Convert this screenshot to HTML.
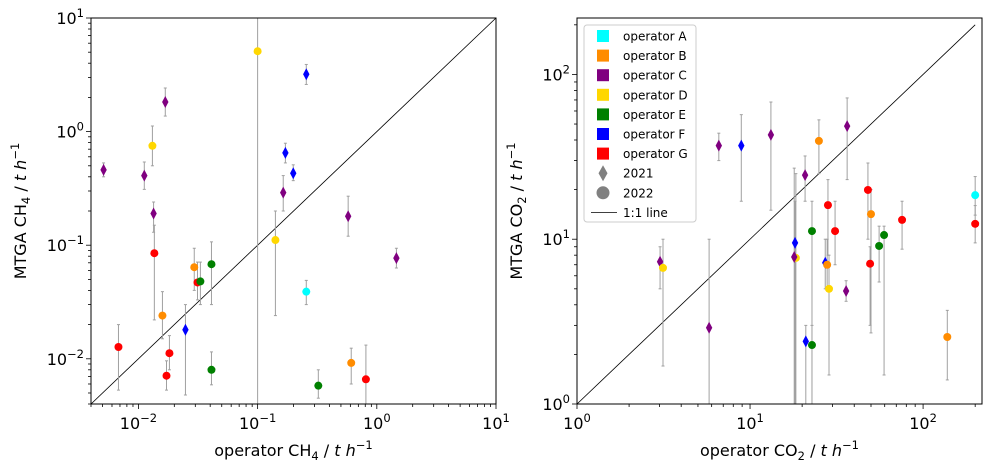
<!DOCTYPE html>
<html><head><meta charset="utf-8"><style>
body{margin:0;background:#fff;}
svg{display:block;font-family:"DejaVu Sans","Liberation Sans",sans-serif;}
</style></head><body>
<svg id="chart" width="994" height="469" viewBox="0 0 994 469" xmlns="http://www.w3.org/2000/svg"></svg>
<script>
const colorOf={A:'#00ffff',B:'#ff8c00',C:'#800080',D:'#ffd700',E:'#008000',F:'#0000ff',G:'#ff0000'};
// Left panel CH4
const ch4Operator=['C','C','C','C','D','G','B','G','G','G','F','B','G','E','E','E','D','D','C','F','F','F','A','E','C','B','C','G'];
const ch4Year=[2021,2021,2021,2021,2022,2022,2022,2022,2022,2022,2021,2022,2022,2022,2022,2022,2022,2022,2021,2021,2021,2021,2022,2022,2021,2022,2021,2022];
const ch4X=[0.0051,0.0112,0.0134,0.0168,0.0131,0.0136,0.0159,0.0068,0.0172,0.0182,0.0248,0.0294,0.0313,0.0331,0.041,0.041,0.1,0.141,0.164,0.171,0.199,0.256,0.256,0.323,0.575,0.61,1.46,0.81];
const ch4Y=[0.46,0.41,0.19,1.82,0.75,0.085,0.024,0.0127,0.0071,0.0112,0.018,0.064,0.047,0.048,0.068,0.008,5.1,0.111,0.29,0.65,0.43,3.2,0.039,0.0058,0.18,0.0092,0.077,0.0066];
const ch4Lo=[0.40,0.31,0.13,1.37,0.50,0.022,0.015,0.0053,0.0053,0.008,0.0048,0.040,0.033,0.030,0.030,0.0059,0.001,0.024,0.20,0.53,0.37,2.6,0.030,0.0045,0.12,0.006,0.063,0.003];
const ch4Hi=[0.53,0.54,0.24,2.42,1.12,0.15,0.039,0.020,0.0096,0.016,0.030,0.094,0.071,0.071,0.107,0.0115,100,0.2,0.41,0.79,0.51,3.9,0.049,0.008,0.27,0.0124,0.094,0.0132];
// Right panel CO2
const co2Operator=['C','D','C','C','F','C','D','C','F','C','F','E','B','E','F','B','D','G','G','C','C','G','B','G','E','E','G','B','A','G'];
const co2Year=[2021,2022,2021,2021,2021,2021,2022,2021,2021,2021,2021,2022,2022,2022,2021,2022,2022,2022,2022,2021,2021,2022,2022,2022,2022,2022,2022,2022,2022,2022];
const co2X=[3.02,3.14,5.8,6.6,8.9,13.2,18.4,18,18.2,20.8,21,22.8,25,22.8,27.2,27.9,28.6,28.2,31,35.9,36.4,48,50,49.4,55.7,59.5,75.6,138,200,200];
const co2Y=[7.3,6.7,2.9,37,37,43,7.7,7.8,9.5,24.5,2.4,11.2,39.5,2.28,7.2,7.0,5.0,16.1,11.2,4.85,48.6,19.9,14.2,7.1,9.1,10.6,13.1,2.55,18.5,12.4];
const co2Lo=[5,1.7,1.0,30,17,15,0.5,1,0.5,17,1,0.5,25,0.5,5,5,1.5,8,7,4.2,23,10,2.7,3,5.5,1.5,8.7,1.4,14,9.5];
const co2Hi=[9,10,10,44,57,68,25,27,17,32,3,17,53,3,10,10,8,23,17,5.6,72,29,20,9,12,12,17,3.7,24,16];

const svg=document.getElementById('chart');
const NS='http://www.w3.org/2000/svg';
function mk(tag,attrs,parent){const e=document.createElementNS(NS,tag);for(const k in attrs)e.setAttribute(k,attrs[k]);(parent||svg).appendChild(e);return e;}

function panel(cfg){
  const g=mk('g',{});
  
  
  const L=cfg.left,R=cfg.right,T=18,B=404;
  const lx0=Math.log10(cfg.xmin),lx1=Math.log10(cfg.xmax),ly0=Math.log10(cfg.ymin),ly1=Math.log10(cfg.ymax);
  const sx=v=>L+(Math.log10(v)-lx0)/(lx1-lx0)*(R-L);
  const sy=v=>B-(Math.log10(v)-ly0)/(ly1-ly0)*(B-T);
  const clip='clip-'+cfg.name;
  const cp=mk('clipPath',{id:clip},g);mk('rect',{x:L,y:T,width:R-L,height:B-T},cp);
  const plot=mk('g',{'clip-path':'url(#'+clip+')'},g);
  // 1:1 line
  const lo=Math.max(cfg.xmin,cfg.ymin),hi=cfg.lineMax;
  const ln=mk('line',{x1:sx(lo),y1:sy(lo),x2:sx(hi),y2:sy(hi),stroke:'#000','stroke-width':0.8},plot);
  
  
  // error bars
  for(let i=0;i<cfg.x.length;i++){
    const x=sx(cfg.x[i]),y1=sy(cfg.lo[i]),y2=sy(cfg.hi[i]);
    const eb=mk('g',{stroke:'#a0a0a0','stroke-width':1},plot);
    
    
    mk('line',{x1:x,y1:y1,x2:x,y2:y2},eb);
    mk('line',{x1:x-1.5,y1:y1,x2:x+1.5,y2:y1},eb);
    mk('line',{x1:x-1.5,y1:y2,x2:x+1.5,y2:y2},eb);
  }
  // markers
  for(let i=0;i<cfg.x.length;i++){
    const x=sx(cfg.x[i]),y=sy(cfg.y[i]),c=colorOf[cfg.op[i]];
    let m;
    if(cfg.year[i]===2021){
      m=mk('polygon',{points:`${x},${y-6} ${x+3.2},${y} ${x},${y+6} ${x-3.2},${y}`,fill:c},plot);
    }else{
      m=mk('circle',{cx:x,cy:y,r:4,fill:c},plot);
    }
    
    
  }
  // frame
  mk('rect',{x:L,y:T,width:R-L,height:B-T,fill:'none',stroke:'#000','stroke-width':1},g);
  // ticks
  const ax=mk('g',{},g);
  
  
  function ticks(isX){
    const a=isX?lx0:ly0,b=isX?lx1:ly1;
    for(let d=Math.floor(a);d<=Math.ceil(b);d++){
      for(let k=1;k<10;k++){
        const v=k*Math.pow(10,d),lv=Math.log10(v);
        if(lv<a-1e-9||lv>b+1e-9)continue;
        const len=k===1?5:3;
        if(isX){const p=sx(v);mk('line',{x1:p,y1:B,x2:p,y2:B+len,stroke:'#000','stroke-width':0.8},ax);}
        else{const p=sy(v);mk('line',{x1:L,y1:p,x2:L-len,y2:p,stroke:'#000','stroke-width':0.8},ax);}
        if(k===1){
          const t=mk('text',{'font-size':16,fill:'#000'},ax);
          
          
          if(isX){t.setAttribute('x',sx(v));t.setAttribute('y',B+25);t.setAttribute('text-anchor','middle');}
          else{t.setAttribute('x',L-7);t.setAttribute('y',sy(v)+6);t.setAttribute('text-anchor','end');}
          const s1=mk('tspan',{},t);s1.textContent='10';
          const s2=mk('tspan',{dy:-7,'font-size':11.5},t);s2.textContent=(d<0?'\u2212'+(-d):''+d);
        }
      }
    }
  }
  ticks(true);ticks(false);
  // axis labels
  const xl=mk('text',{x:(L+R)/2,y:456,'text-anchor':'middle','font-size':16},g);
  
  
  xl.innerHTML='operator '+cfg.gas+'<tspan dy="4" font-size="11.5">'+cfg.sub+'</tspan><tspan dy="-4"> / </tspan><tspan font-style="italic">t h</tspan><tspan dy="-7" font-size="11.5">\u22121</tspan>';
  const yl=mk('text',{transform:`translate(${cfg.ylabX},${(T+B)/2}) rotate(-90)`,'text-anchor':'middle','font-size':16},g);
  
  
  yl.innerHTML='MTGA '+cfg.gas+'<tspan dy="4" font-size="11.5">'+cfg.sub+'</tspan><tspan dy="-4"> / </tspan><tspan font-style="italic">t h</tspan><tspan dy="-7" font-size="11.5">\u22121</tspan>';
}
panel({name:'ch4-panel',left:91,right:496,xmin:0.004,xmax:10,ymin:0.004,ymax:10,lineMax:10,gas:'CH',sub:'4',ylabX:26,
  x:ch4X,y:ch4Y,lo:ch4Lo,hi:ch4Hi,op:ch4Operator,year:ch4Year});
panel({name:'co2-panel',left:577,right:982,xmin:1,xmax:219,ymin:1,ymax:220,lineMax:200,gas:'CO',sub:'2',ylabX:522,
  x:co2X,y:co2Y,lo:co2Lo,hi:co2Hi,op:co2Operator,year:co2Year});

// legend
const leg=mk('g',{});


mk('rect',{x:584,y:25,width:112,height:197,rx:3,fill:'#fff',stroke:'#ccc','stroke-width':1},leg);
const legLabels=['operator A','operator B','operator C','operator D','operator E','operator F','operator G','2021','2022','1:1 line'];
const legKeys=['A','B','C','D','E','F','G'];
legLabels.forEach((lab,i)=>{
  const y=36+i*19.6;
  const e=mk('g',{},leg);
  
  
  if(i<7){mk('rect',{x:597,y:y-6,width:12,height:12,fill:colorOf[legKeys[i]]},e);}
  else if(i===7){mk('polygon',{points:`603,${y-8} 607.5,${y} 603,${y+8} 598.5,${y}`,fill:'#808080'},e);}
  else if(i===8){mk('circle',{cx:603,cy:y,r:6.5,fill:'#808080'},e);}
  else{mk('line',{x1:591,y1:y,x2:617,y2:y,stroke:'#000','stroke-width':0.8},e);}
  const t=mk('text',{x:623,y:y+4.5,'font-size':12},e);t.textContent=lab;
});
</script>
</body></html>
